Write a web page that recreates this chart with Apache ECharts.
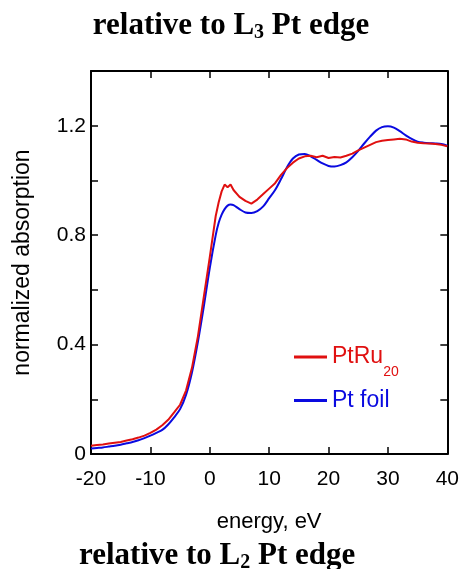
<!DOCTYPE html>
<html>
<head>
<meta charset="utf-8">
<script src="https://cdn.jsdelivr.net/npm/echarts@6/dist/echarts.min.js"></script>
<style>
html,body{margin:0;padding:0;background:#fff;}
#c{width:462px;height:569px;}
</style>
</head>
<body>
<div id="c"></div>
<script>
var energy = [-20,-19,-18,-17,-16,-15,-14,-13,-12,-11,-10,-9,-8,-7,-6,-5,-4,-3,-2,-1,0,1,1.5,2,2.5,3,3.5,4,5,6,7,8,9,10,11,12,13,14,15,16,17,18,19,20,21,22,23,24,25,26,27,28,29,30,31,32,33,34,35,36,37,38,39,40];
var ptRu20 = [0.030,0.033,0.035,0.038,0.041,0.044,0.049,0.054,0.060,0.067,0.077,0.089,0.105,0.125,0.152,0.180,0.232,0.315,0.430,0.575,0.720,0.870,0.920,0.960,0.985,0.975,0.985,0.965,0.940,0.925,0.915,0.930,0.950,0.970,0.990,1.020,1.045,1.065,1.080,1.088,1.090,1.085,1.090,1.082,1.086,1.084,1.090,1.098,1.110,1.120,1.130,1.140,1.145,1.148,1.150,1.152,1.150,1.142,1.138,1.136,1.135,1.133,1.130,1.125];
var ptFoil = [0.020,0.022,0.024,0.027,0.030,0.034,0.039,0.044,0.050,0.058,0.067,0.077,0.088,0.108,0.134,0.164,0.216,0.298,0.410,0.540,0.680,0.800,0.845,0.875,0.895,0.908,0.912,0.910,0.895,0.883,0.881,0.888,0.905,0.935,0.965,1.005,1.048,1.080,1.095,1.097,1.088,1.075,1.062,1.053,1.051,1.056,1.066,1.085,1.108,1.135,1.160,1.182,1.195,1.198,1.193,1.180,1.165,1.152,1.142,1.138,1.136,1.135,1.133,1.127];
var seriesNames = ['PtRu20', 'Pt foil'];
var yLabelValues = [0, 0.4, 0.8, 1.2];

function pairs(vals){ return energy.map(function(e,i){ return [e, vals[i]]; }); }

var sans = "'Liberation Sans', Arial, sans-serif";
var serif = "'Liberation Serif', 'Times New Roman', serif";
var RED = '#e01010', BLUE = '#0a0ae0';

function titleRich(){
  return {
    t: {fontFamily: serif, fontWeight: 'bold', fontSize: 31, color: '#000'},
    s: {fontFamily: serif, fontWeight: 'bold', fontSize: 20, color: '#000', padding: [14,0,0,0]}
  };
}

var chart = echarts.init(document.getElementById('c'), null, {renderer:'canvas'});
chart.setOption({
  animation: false,
  backgroundColor: '#fff',
  title: [
    { text: '{t|relative to L}{s|3}{t| Pt edge}', left: 'center', top: 4, textStyle: { rich: titleRich() } },
    { text: '{t|relative to L}{s|2}{t| Pt edge}', left: 74, top: 534, textStyle: { rich: titleRich() } }
  ],
  legend: {
    orient: 'vertical', left: 289, top: 330, itemWidth: 33, itemHeight: 3, itemGap: 10,
    icon: 'rect',
    data: seriesNames,
    formatter: function(n){ return n === 'PtRu20' ? '{r|PtRu}{rs|20}' : '{b|Pt foil}'; },
    textStyle: { rich: {
      r: {fontFamily: sans, fontSize: 23, color: RED},
      rs: {fontFamily: sans, fontSize: 14, lineHeight: 14, color: RED, padding: [30,0,0,0]},
      b: {fontFamily: sans, fontSize: 23, color: BLUE}
    } }
  },
  grid: { left: 91, right: 12, top: 71, bottom: 115, containLabel: false },
  xAxis: [
    { type: 'value', min: -20, max: 40, interval: 10, position: 'bottom',
      name: 'energy, eV', nameLocation: 'middle', nameGap: 57,
      nameTextStyle: {fontFamily: sans, fontSize: 22, color: '#000'},
      axisLine: {onZero: false, lineStyle: {color: '#000', width: 2}},
      axisTick: {inside: true, length: 7, lineStyle: {color: '#000', width: 1.5}},
      axisLabel: {margin: 15, fontFamily: sans, fontSize: 21, color: '#000'},
      splitLine: {show: false} },
    { type: 'value', min: -20, max: 40, interval: 10, position: 'top',
      axisLine: {onZero: false, lineStyle: {color: '#000', width: 2}},
      axisTick: {inside: true, length: 7, lineStyle: {color: '#000', width: 1.5}},
      axisLabel: {show: false}, splitLine: {show: false} }
  ],
  yAxis: [
    { type: 'value', min: 0, max: 1.4, interval: 0.2, position: 'left',
      name: 'normalized absorption', nameLocation: 'middle', nameGap: 57,
      nameTextStyle: {fontFamily: sans, fontSize: 23, color: '#000'},
      axisLine: {onZero: false, lineStyle: {color: '#000', width: 2}},
      axisTick: {inside: true, length: 7, lineStyle: {color: '#000', width: 1.5}},
      axisLabel: {margin: 5, fontFamily: sans, fontSize: 21, color: '#000',
        formatter: function(v){
          for (var i = 0; i < yLabelValues.length; i++) {
            if (Math.abs(v - yLabelValues[i]) < 1e-6) return v === 0 ? '0' : v.toFixed(1);
          }
          return '';
        } },
      splitLine: {show: false} },
    { type: 'value', min: 0, max: 1.4, interval: 0.2, position: 'right',
      axisLine: {onZero: false, lineStyle: {color: '#000', width: 2}},
      axisTick: {inside: true, length: 7, lineStyle: {color: '#000', width: 1.5}},
      axisLabel: {show: false}, splitLine: {show: false} }
  ],
  series: [
    { name: seriesNames[0], type: 'line', data: pairs(ptRu20), showSymbol: false, symbol: 'none',
      lineStyle: {color: RED, width: 2}, itemStyle: {color: RED}, z: 3 },
    { name: seriesNames[1], type: 'line', data: pairs(ptFoil), showSymbol: false, symbol: 'none', smooth: 0.3,
      lineStyle: {color: BLUE, width: 2}, itemStyle: {color: BLUE}, z: 2 }
  ]
});
</script>
</body>
</html>
